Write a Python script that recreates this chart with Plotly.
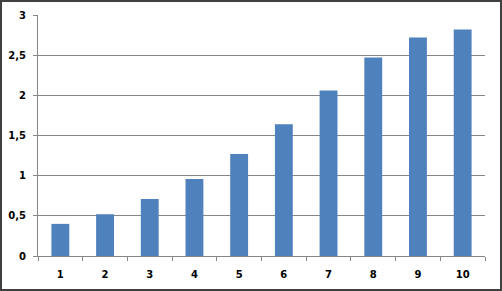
import plotly.graph_objects as go

categories = ["1", "2", "3", "4", "5", "6", "7", "8", "9", "10"]
values = [0.40, 0.52, 0.71, 0.96, 1.27, 1.64, 2.06, 2.47, 2.72, 2.82]
y_tickvals = [0, 0.5, 1, 1.5, 2, 2.5, 3]
y_ticktext = ["0", "0,5", "1", "1,5", "2", "2,5", "3"]

W, H = 502, 291
L, R, T, B = 38, 17, 15, 35
pw, ph = W - L - R, H - T - B

fig = go.Figure(go.Bar(x=categories, y=values, marker=dict(color="#4F81BD", line=dict(width=0)), width=0.4))

font = dict(family="DejaVu Sans", size=10, color="#000000", weight="bold")

fig.update_layout(
    width=W, height=H,
    margin=dict(l=L, r=R, t=T, b=B),
    paper_bgcolor="white", plot_bgcolor="white",
    showlegend=False,
    bargap=0.6,
    xaxis=dict(type="category", showgrid=False, showline=True, linecolor="#868686", linewidth=1,
               ticks="outside", tickson="boundaries", ticklen=4, tickcolor="#868686",
               tickfont=font, ticklabelstandoff=9, automargin=False, fixedrange=True),
    yaxis=dict(range=[0, 3], tickvals=y_tickvals, ticktext=y_ticktext, showgrid=True,
               gridcolor="#868686", gridwidth=1, showline=True, linecolor="#868686", linewidth=1,
               ticks="outside", ticklen=4, tickcolor="#868686", tickfont=font,
               ticklabelstandoff=5, automargin=False, zeroline=False),
    shapes=[dict(type="rect", xref="paper", yref="paper",
                 x0=(1 - L) / pw, x1=(W - 1 - L) / pw,
                 y0=(H - B - (H - 1)) / ph, y1=(H - B - 1) / ph,
                 line=dict(color="#404040", width=2), fillcolor="rgba(0,0,0,0)")],
)

fig.write_html("out.html")
